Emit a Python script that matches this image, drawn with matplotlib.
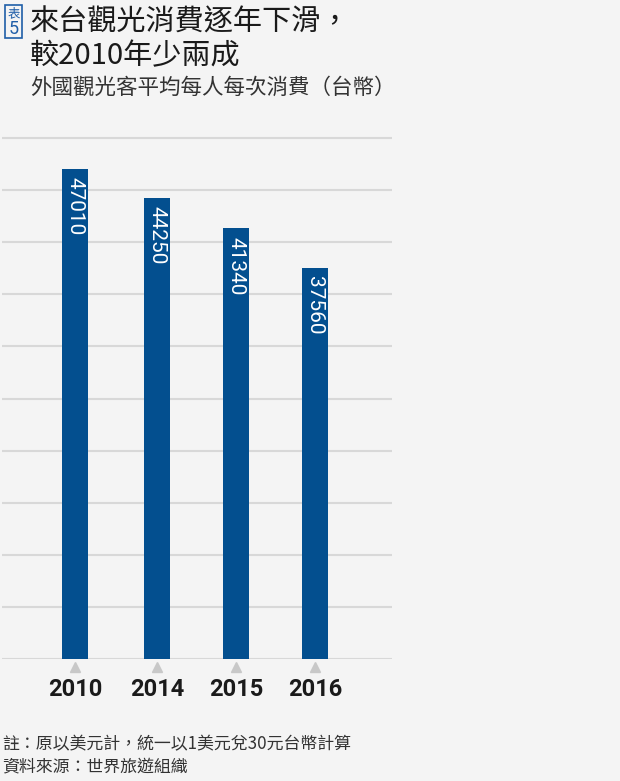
import numpy as np
import matplotlib.pyplot as plt

plt.rcParams['font.family'] = ['Noto Sans CJK TC', 'DejaVu Sans']

# dati
years = ['2010', '2014', '2015', '2016']
spend = [47010, 44250, 41340, 37560]  #台幣 / persona
grid_ticks = np.arange(0, 50001, 5000)

title1 = '來台觀光消費逐年下滑，'
title2 = '較2010年少兩成'
subtitle = '外國觀光客平均每人每次消費（台幣）'
note1 = '註：原以美元計，統一以1美元兌30元台幣計算'
note2 = '資料來源：世界旅遊組織'

bg = '#f4f4f4'
blue = '#034f8f'
W, H = 620, 781

fig = plt.figure(figsize=(W / 100, H / 100), dpi=100, facecolor=bg)

# asse: baseline a y=659 px, 50000 a y=138 px
px_per = 50000 / (659 - 138)
top_px = 130
ax = fig.add_axes([2 / W, 1 - 659 / H, 390 / W, (659 - top_px) / H])
ax.set_facecolor(bg)
x = np.array([0, 1.025, 2.01, 3.0])  # centri un po' irregolari come nell'originale
ax.set_xlim((2 - 75) / 80, (392 - 75) / 80)
ax.set_ylim(0, 50000 + (138 - top_px) * px_per)

for g in grid_ticks:
    ax.axhline(g, color='#d8d8d8', lw=1.5, zorder=0)

ax.bar(x, spend, width=26 / 80, color=blue, zorder=2)

for xi, v in zip(x, spend):
    ax.annotate(f'{v}', (xi, v), xytext=(0, -6), textcoords='offset points',
                rotation=-90, ha='center', va='top', color='white',
                fontsize=15, family=['Roboto', 'DejaVu Sans'], zorder=3)

# triangolini grigi
ax.plot(x, [-8 * px_per] * len(x), marker='^', ls='none', color='#c8c8c8',
        markersize=7, clip_on=False)

ax.set_xticks(x)
ax.set_xticklabels(years, fontsize=17, fontweight='bold', color='#1a1a1a',
                   family=['Roboto', 'DejaVu Sans'])
ax.tick_params(axis='x', length=0, pad=14)
ax.set_yticks([])
for s in ax.spines.values():
    s.set_visible(False)

# titolo
fig.text(30 / W, 1 - 23 / H, title1, fontsize=21, color='#1a1a1a', va='center', ha='left')
fig.text(30 / W, 1 - 56 / H, title2, fontsize=21, color='#1a1a1a', va='center', ha='left')
fig.text(30 / W, 1 - 88 / H, subtitle, fontsize=15.5, color='#333333', va='center', ha='left')

# box "表5"
box = plt.Rectangle((5 / W, 1 - 38 / H), 17 / W, 33 / H, transform=fig.transFigure,
                    fill=False, edgecolor='#1f5ea8', lw=1.2)
fig.add_artist(box)
fig.text(13.5 / W, 1 - 14 / H, '表', fontsize=9, color='#1f5ea8', ha='center', va='center')
fig.text(13.5 / W, 1 - 29 / H, '5', fontsize=13, color='#1f5ea8', ha='center', va='center',
         family=['Roboto', 'DejaVu Sans'])

# note
fig.text(2 / W, 1 - 744 / H, note1, fontsize=12.2, color='#333333', va='center', ha='left')
fig.text(2 / W, 1 - 766 / H, note2, fontsize=12.2, color='#333333', va='center', ha='left')

fig.savefig('out.png', dpi=100, facecolor=bg)
